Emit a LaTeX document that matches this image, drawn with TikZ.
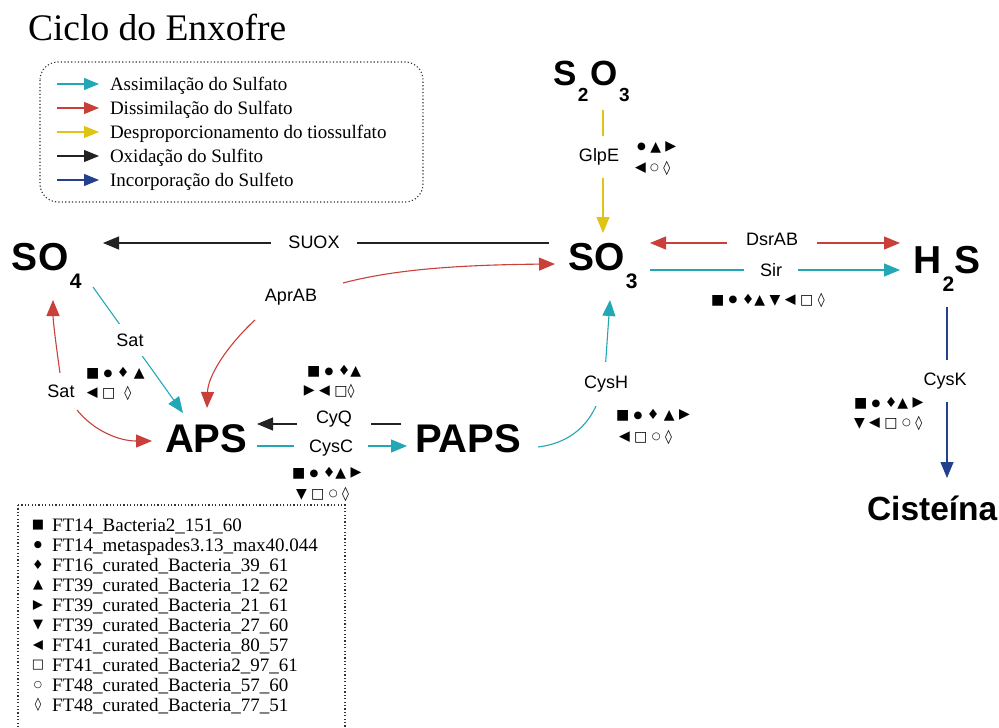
\documentclass[tikz,border=0pt]{standalone}
\usepackage{fontspec}
\setmainfont{Liberation Serif}
\setsansfont{Liberation Sans}
\newfontfamily\symfont{DejaVu Sans}
\usetikzlibrary{arrows.meta}
\definecolor{tealc}{HTML}{22A7B4}
\definecolor{redc}{HTML}{C9403B}
\definecolor{yelc}{HTML}{E0C414}
\definecolor{navyc}{HTML}{22408C}
\definecolor{blkc}{HTML}{222222}
\newcommand\chsub[2][21]{\kern1.5pt\raisebox{-0.47em}{\fontsize{#1}{#1}\selectfont #2}}
\newcommand\sySq{■}
\newcommand\syCi{\raisebox{0.08em}{\scalebox{0.72}{●}}}
\newcommand\syDi{♦}
\newcommand\syUp{▲}
\newcommand\syRt{\raisebox{0.05em}{\rotatebox[origin=c]{-90}{▲}}}
\newcommand\syDn{▼}
\newcommand\syLt{\raisebox{0.05em}{\rotatebox[origin=c]{90}{▲}}}
\newcommand\syOs{□}
\newcommand\syOc{\raisebox{0.08em}{\scalebox{0.72}{○}}}
\newcommand\syLz{◊}
\tikzset{
  every node/.style={inner sep=0pt, outer sep=0pt},
  chem/.style={font=\sffamily\bfseries\fontsize{39}{39}\selectfont, anchor=base west},
  lab/.style={font=\sffamily\fontsize{18}{18}\selectfont, fill=white},
  syms/.style={font=\symfont\fontsize{14}{14}\selectfont, anchor=west},
  legtxt/.style={font=\fontsize{19}{19}\selectfont, anchor=base west},
  legsym/.style={font=\symfont\fontsize{13}{13}\selectfont},
  arr/.style={line width=1.1pt, -{Triangle[length=16pt,width=13pt]}},
  larr/.style={line width=1.1pt, -{Triangle[length=15pt,width=12pt]}},
  dotbox/.style={line width=1.1pt, dash pattern=on 1.2pt off 2.2pt, draw=black!80},
}
\begin{document}
\begin{tikzpicture}[x=1pt,y=-1pt]
\useasboundingbox (0,0) rectangle (999,728);
\clip (0,0) rectangle (999,728);
\fill[white] (0,0) rectangle (999,728);

% title
\node[anchor=base west, font=\fontsize{37.5}{37.5}\selectfont] (title) at (28,40) {Ciclo do Enxofre};

% legend 1
\draw[dotbox, rounded corners=18pt] (40,62) rectangle (423,202);
\foreach \c/\t/\y/\n in {tealc/Assimilação do Sulfato/90/a, redc/Dissimilação do Sulfato/114/b, yelc/Desproporcionamento do tiossulfato/138/c, blkc/Oxidação do Sulfito/162/d, navyc/Incorporação do Sulfeto/186/e}{
  \coordinate (la\n) at (57,\y-6);
  \coordinate (lb\n) at (99,\y-6);
  \draw[larr, \c] (la\n) -- (lb\n);
  \node[legtxt] (lt\n) at (110,\y) {\t};
}

% chemical species
\node[chem] (so4) at (12,270) {SO\chsub{4}};
\node[chem] (so3) at (568,270) {SO\chsub{3}};
\node[chem, font=\sffamily\bfseries\fontsize{35}{35}\selectfont] (s2o3) at (553,85) {S\chsub[19]{2}\kern2pt O\chsub[19]{3}};
\node[chem] (h2s) at (913,273) {H\chsub{2}S};
\node[chem, font=\sffamily\bfseries\fontsize{40}{40}\selectfont] (aps) at (165,452) {APS};
\node[chem, font=\sffamily\bfseries\fontsize{40}{40}\selectfont] (paps) at (415,452) {PAPS};
\node[chem, font=\sffamily\bfseries\fontsize{33.5}{33.5}\selectfont] (cis) at (867,520) {Cisteína};

% connector end points
\coordinate (suoxA) at (549,243);
\coordinate (suoxB) at (103,243);
\coordinate (aprL) at (255,320);
\coordinate (aprAPS) at (207,408);
\coordinate (aprR) at (343,283);
\coordinate (aprSO3) at (555,264);
\coordinate (satT1) at (93,287);
\coordinate (satT2) at (183,413);
\coordinate (satR1) at (60,373);
\coordinate (satSO4) at (53,300);
\coordinate (satR2) at (77,410);
\coordinate (satAPS) at (152,441);
\coordinate (glpA) at (603,110);
\coordinate (glpB) at (603,233);
\coordinate (dsrA) at (650,243);
\coordinate (dsrB) at (900,243);
\coordinate (sirA) at (650,270);
\coordinate (sirB) at (900,270);
\coordinate (cyqA) at (401,424);
\coordinate (cyqB) at (257,424);
\coordinate (cyscA) at (257,446);
\coordinate (cyscB) at (407,446);
\coordinate (cyshA) at (538,447);
\coordinate (cyshM) at (605,372);
\coordinate (cyshB) at (610,300);
\coordinate (cyskA) at (947,307);
\coordinate (cyskB) at (947,478);

% connectors
\draw[arr, blkc] (suoxA) -- (suoxB);
\node[lab, inner xsep=17pt, inner ysep=3pt] (suox) at (314,242) {SUOX};

\draw[arr, redc] (aprL) .. controls (228,345) and (208,375) .. (aprAPS);
\draw[arr, redc] (aprR) .. controls (385,272) and (440,265) .. (aprSO3);
\node[lab] (apr) at (291,297) {AprAB};

\draw[arr, tealc] (satT1) -- (satT2);
\node[lab, inner xsep=2pt, inner ysep=10pt] (sat1) at (130,340) {Sat};

\draw[arr, redc] (satR1) .. controls (56,345) and (53,320) .. (satSO4);
\draw[arr, redc] (satR2) .. controls (95,432) and (120,441) .. (satAPS);
\node[lab] (sat2) at (61,391) {Sat};

\draw[arr, yelc] (glpA) -- (glpB);
\node[lab, inner xsep=2pt, inner ysep=13pt] (glpe) at (599,157) {GlpE};

\draw[line width=1.1pt, redc, {Triangle[length=16pt,width=13pt]}-{Triangle[length=16pt,width=13pt]}] (dsrA) -- (dsrB);
\node[lab, inner xsep=19pt, inner ysep=3pt] (dsr) at (772,239) {DsrAB};

\draw[arr, tealc] (sirA) -- (sirB);
\node[lab, inner xsep=16pt, inner ysep=3pt] (sir) at (771,270) {Sir};

\draw[arr, blkc] (cyqA) -- (cyqB);
\node[lab, inner xsep=19pt, inner ysep=2pt] (cyq) at (334,419) {CyQ};

\draw[arr, tealc] (cyscA) -- (cyscB);
\node[lab, inner xsep=15pt, inner ysep=2pt] (cysc) at (331,448) {CysC};

\draw[arr, tealc] (cyshA) .. controls (578,442) and (600,415) .. (cyshM) -- (cyshB);
\node[lab, inner xsep=2pt, inner ysep=14pt] (cysh) at (606,384) {CysH};

\draw[arr, navyc] (cyskA) -- (cyskB);
\node[lab, inner xsep=2pt, inner ysep=13pt] (cysk) at (945,381) {CysK};

% symbol groups
\node[syms] (g1a) at (86,373) {\sySq\ \syCi\ \syDi\ \syUp};
\node[syms] (g1b) at (87,393) {\syLt\ \syOs\ \ \syLz};
\node[syms] (g2a) at (307,371) {\sySq\ \syCi\ \syDi\syUp};
\node[syms] (g2b) at (304,391) {\syRt\ \syLt\ \syOs\syLz};
\node[syms] (g3a) at (292,473) {\sySq\ \syCi\ \syDi\syUp\ \syRt};
\node[syms] (g3b) at (296,494) {\syDn\ \syOs\ \syOc\ \syLz};
\node[syms] (g4a) at (637,147) {\syCi\ \syUp\ \syRt};
\node[syms] (g4b) at (635,168) {\syLt\ \syOc\ \syLz};
\node[syms] (g5) at (711,300) {\sySq\ \syCi\ \syDi\syUp\ \syDn\ \syLt\ \syOs\ \syLz};
\node[syms] (g6a) at (616,415) {\sySq\ \syCi\ \syDi\ \syUp\ \syRt};
\node[syms] (g6b) at (619,437) {\syLt\ \syOs\ \syOc\ \syLz};
\node[syms] (g7a) at (854,403) {\sySq\ \syCi\ \syDi\syUp\ \syRt};
\node[syms] (g7b) at (854,423) {\syDn\ \syLt\ \syOs\ \syOc\ \syLz};

% legend 2
\draw[dotbox] (18,505) rectangle (345,760);
\foreach \s/\t [count=\i from 0] in {\sySq/FT14\_Bacteria2\_151\_60, \syCi/FT14\_metaspades3.13\_max40.044, \syDi/FT16\_curated\_Bacteria\_39\_61, \syUp/FT39\_curated\_Bacteria\_12\_62, \syRt/FT39\_curated\_Bacteria\_21\_61, \syDn/FT39\_curated\_Bacteria\_27\_60, \syLt/FT41\_curated\_Bacteria\_80\_57, \syOs/FT41\_curated\_Bacteria2\_97\_61, \syOc/FT48\_curated\_Bacteria\_57\_60, \syLz/FT48\_curated\_Bacteria\_77\_51}{
  \node[legsym] (ls\i) at (38,531.5+20*\i-6.5) {\s};
  \node[legtxt] (lx\i) at (52,531.5+20*\i) {\t};
}
\end{tikzpicture}
\end{document}
